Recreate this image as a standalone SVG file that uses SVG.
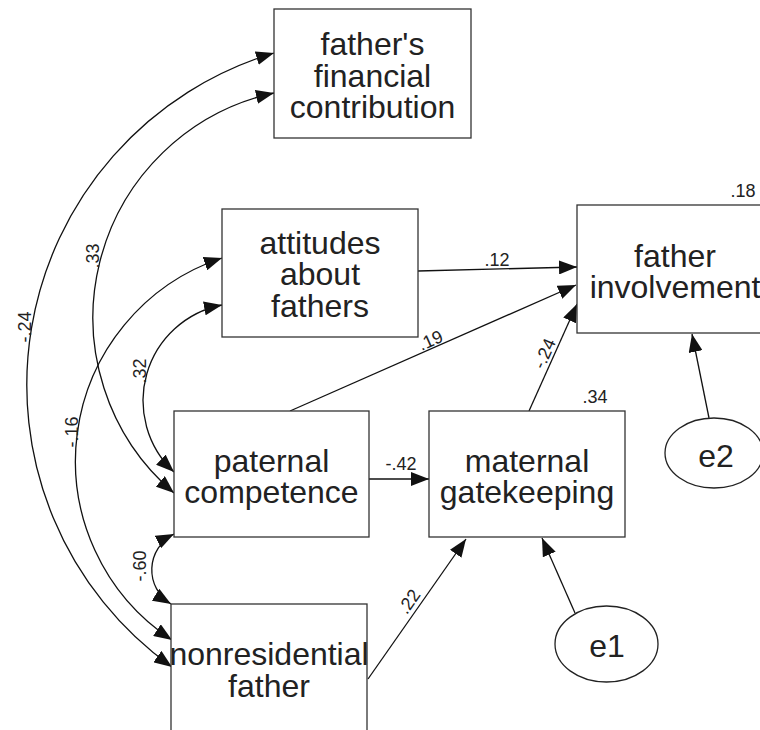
<svg xmlns="http://www.w3.org/2000/svg" width="760" height="730" viewBox="0 0 760 730">
<style>
.box{fill:#fff;stroke:#333;stroke-width:1.3}
.ell{fill:#fff;stroke:#222;stroke-width:1.3}
.t{font-family:"Liberation Sans",Arial,sans-serif;font-size:32px;fill:#222;text-anchor:middle}
.l{font-family:"Liberation Sans",Arial,sans-serif;font-size:18px;fill:#222;text-anchor:middle}
.c{fill:none;stroke:#111;stroke-width:1.3}
</style>
<defs>
<marker id="ah" markerUnits="userSpaceOnUse" markerWidth="19" markerHeight="14" refX="18" refY="7" orient="auto-start-reverse" viewBox="0 0 19 14">
<path d="M0,0 L18,7 L0,14 z" fill="#111"/>
</marker>
</defs>
<rect width="760" height="730" fill="#fff"/>
<g id="connectors">
<path class="c" d="M274,53 A346.5,346.5 0 0,0 172,667" marker-start="url(#ah)" marker-end="url(#ah)"/>
<path class="c" d="M274,93 A230,230 0 0,0 174,493" marker-start="url(#ah)" marker-end="url(#ah)"/>
<path class="c" d="M222,258 A214,214 0 0,0 172,640" marker-start="url(#ah)" marker-end="url(#ah)"/>
<path class="c" d="M222,305 A97.5,97.5 0 0,0 174,472" marker-start="url(#ah)" marker-end="url(#ah)"/>
<path class="c" d="M174,534 A40,40 0 0,0 171,604" marker-start="url(#ah)" marker-end="url(#ah)"/>
<line class="c" x1="418" y1="271" x2="577" y2="267" marker-end="url(#ah)"/>
<line class="c" x1="290" y1="411" x2="576" y2="285" marker-end="url(#ah)"/>
<line class="c" x1="529" y1="411" x2="577" y2="304" marker-end="url(#ah)"/>
<line class="c" x1="709" y1="418" x2="692" y2="334" marker-end="url(#ah)"/>
<line class="c" x1="369" y1="479" x2="429" y2="479" marker-end="url(#ah)"/>
<line class="c" x1="368" y1="679" x2="466" y2="539" marker-end="url(#ah)"/>
<line class="c" x1="575" y1="613" x2="542" y2="538" marker-end="url(#ah)"/>
<text class="l" transform="translate(31,327) rotate(-90)">-.24</text>
<text class="l" transform="translate(99,256) rotate(-90)">.33</text>
<text class="l" transform="translate(146,371) rotate(-90)">.32</text>
<text class="l" transform="translate(78,432) rotate(-90)">-.16</text>
<text class="l" transform="translate(146,566) rotate(-90)">-.60</text>
<text class="l" x="497" y="266">.12</text>
<text class="l" transform="translate(433,346) rotate(-24)">.19</text>
<text class="l" transform="translate(550,356) rotate(-66)">-.24</text>
<text class="l" x="401" y="470">-.42</text>
<text class="l" transform="translate(414,605) rotate(-55)">.22</text>
</g>
<g id="financial">
<rect class="box" x="274" y="9" width="197" height="129"/>
<text class="t" x="372.5" y="55">father's</text>
<text class="t" x="372.5" y="87">financial</text>
<text class="t" x="372.5" y="118">contribution</text>
</g>
<g id="attitudes">
<rect class="box" x="222" y="209" width="196" height="128"/>
<text class="t" x="320" y="254">attitudes</text>
<text class="t" x="320" y="285">about</text>
<text class="t" x="320" y="317">fathers</text>
</g>
<g id="involvement">
<rect class="box" x="577" y="205" width="196" height="128"/>
<text class="t" x="675" y="267">father</text>
<text class="t" x="675" y="298">involvement</text>
<text class="l" x="743" y="197">.18</text>
</g>
<g id="competence">
<rect class="box" x="174" y="411" width="195" height="126"/>
<text class="t" x="271.5" y="472">paternal</text>
<text class="t" x="271.5" y="503">competence</text>
</g>
<g id="gatekeeping">
<rect class="box" x="429" y="411" width="196" height="126"/>
<text class="t" x="527" y="472">maternal</text>
<text class="t" x="527" y="503">gatekeeping</text>
<text class="l" x="595" y="403">.34</text>
</g>
<g id="nonresidential">
<rect class="box" x="171" y="604" width="196" height="130"/>
<text class="t" x="269" y="665">nonresidential</text>
<text class="t" x="269" y="697">father</text>
</g>
<g id="e1">
<ellipse class="ell" cx="606.5" cy="644" rx="51.5" ry="38"/>
<text class="t" x="607" y="657">e1</text>
</g>
<g id="e2">
<ellipse class="ell" cx="714" cy="453" rx="49" ry="35"/>
<text class="t" x="716" y="467">e2</text>
</g>
</svg>
